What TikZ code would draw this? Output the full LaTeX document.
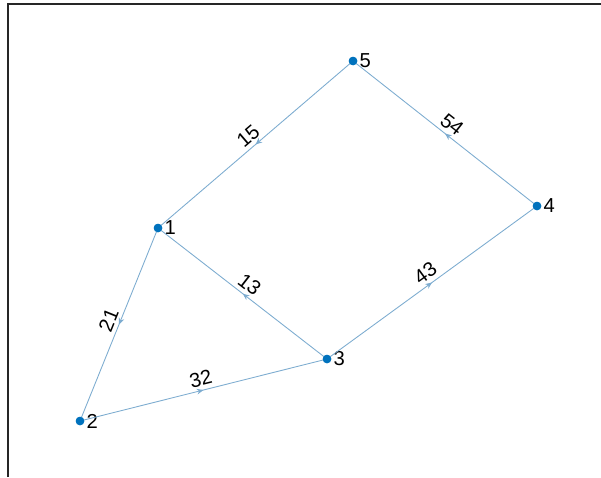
\documentclass[tikz,border=0pt]{standalone}
\usepackage{fontspec}
\setmainfont{Liberation Sans}
\usetikzlibrary{arrows.meta,decorations.markings}
\definecolor{nodeblue}{RGB}{0,114,189}
\definecolor{edgeblue}{RGB}{125,172,208}
\definecolor{axisgray}{RGB}{38,38,38}
\tikzset{
  vtx/.style={circle,fill=nodeblue,inner sep=0pt,minimum size=0.17cm,
    label={[font=\fontsize{11.5}{13}\selectfont,inner sep=1pt,label distance=0pt]east:#1}},
  edg/.style={draw=edgeblue,line width=0.5pt,postaction={decorate},
    decoration={markings,mark=at position 0.5 with {\arrow{Stealth[length=3.8pt,width=3.2pt]}}}},
  wlbl/.style={midway,sloped,above,inner sep=2.2pt,font=\fontsize{11.5}{13}\selectfont}
}

\begin{document}
\begin{tikzpicture}[x=0.02cm,y=-0.02cm]
\useasboundingbox (0,0) rectangle (601,477);
% axes frame
\draw[axisgray,line width=0.6pt] (8,477)--(8,4)--(601,4);

\node[vtx=1] (n1) at (158,228) {};
\node[vtx=2] (n2) at (80,421) {};
\node[vtx=3] (n3) at (327,359) {};
\node[vtx=4] (n4) at (537,206) {};
\node[vtx=5] (n5) at (353,61) {};

\draw[edg] (n1.center)--(n2.center) node[wlbl]{21};
\draw[edg] (n2.center)--(n3.center) node[wlbl]{32};
\draw[edg] (n3.center)--(n1.center) node[wlbl]{13};
\draw[edg] (n3.center)--(n4.center) node[wlbl]{43};
\draw[edg] (n4.center)--(n5.center) node[wlbl]{54};
\draw[edg] (n5.center)--(n1.center) node[wlbl]{15};

% dots on top of the edges
\foreach \v in {1,...,5}
  \fill[nodeblue] (n\v) circle (0.085cm);
\end{tikzpicture}
\end{document}
